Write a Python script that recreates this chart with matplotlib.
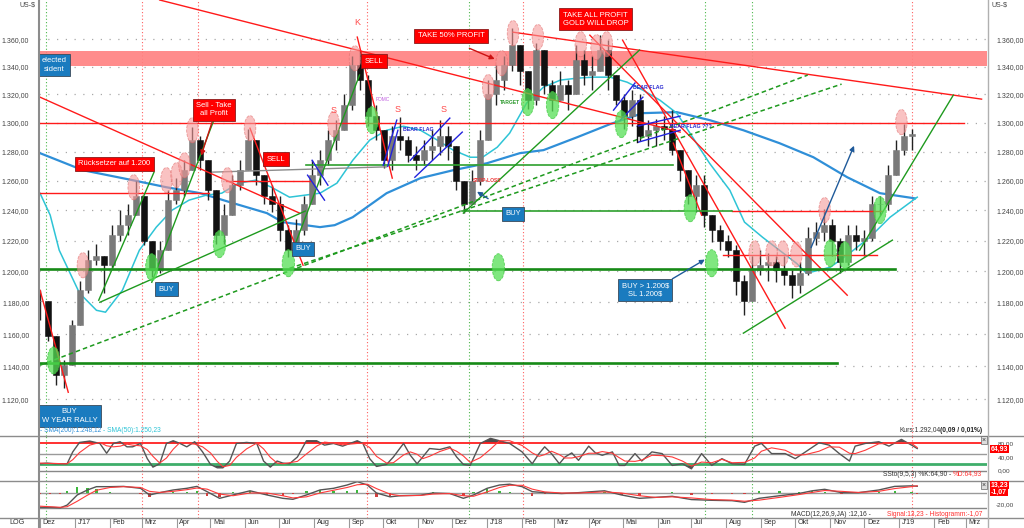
import numpy as np
import matplotlib
matplotlib.use("Agg")
import matplotlib.pyplot as plt
from matplotlib.path import Path
from matplotlib.transforms import Affine2D, ScaledTranslation
from matplotlib.lines import Line2D
from matplotlib.ticker import FuncFormatter, NullLocator

plt.rcParams['font.family'] = ['Liberation Sans', 'DejaVu Sans']

# x axis: days since 1 Dec 2016
month_days = [0, 31, 62, 90, 121, 151, 182, 212, 243, 274, 304, 335, 365, 396, 427, 455,
              486, 516, 547, 577, 608, 639, 669, 700, 730, 761, 792, 820]
month_labels = ['Dez', "J'17", 'Feb', 'Mrz', 'Apr', 'Mai', 'Jun', 'Jul', 'Aug', 'Sep', 'Okt',
                'Nov', 'Dez', "J'18", 'Feb', 'Mrz', 'Apr', 'Mai', 'Jun', 'Jul', 'Aug', 'Sep',
                'Okt', 'Nov', 'Dez', "J'19", 'Feb', 'Mrz']
price_ticks = [1.12, 1.14, 1.16, 1.18, 1.20, 1.22, 1.24, 1.26, 1.28, 1.30, 1.32, 1.34, 1.36]

# weekly gold price (thousand US-$ per ounce)
week_day = np.linspace(0, 772, 110)
close = [1.181, 1.159, 1.1345, 1.141, 1.166, 1.188, 1.207, 1.210, 1.204, 1.224,
         1.230, 1.237, 1.250, 1.220, 1.201, 1.214, 1.247, 1.254, 1.267, 1.288,
         1.274, 1.254, 1.224, 1.237, 1.257, 1.267, 1.288, 1.264, 1.250, 1.244,
         1.227, 1.214, 1.227, 1.244, 1.264, 1.274, 1.288, 1.295, 1.3125, 1.341,
         1.330, 1.305, 1.295, 1.274, 1.291, 1.288, 1.2775, 1.274, 1.281, 1.284,
         1.291, 1.284, 1.260, 1.244, 1.260, 1.288, 1.320, 1.330, 1.341, 1.356,
         1.337, 1.316, 1.352, 1.327, 1.316, 1.327, 1.320, 1.345, 1.334, 1.337,
         1.352, 1.334, 1.316, 1.305, 1.316, 1.291, 1.295, 1.298, 1.296, 1.281,
         1.267, 1.250, 1.257, 1.237, 1.227, 1.220, 1.214, 1.194, 1.181, 1.201,
         1.204, 1.206, 1.201, 1.1975, 1.191, 1.199, 1.222, 1.226, 1.230, 1.220,
         1.206, 1.224, 1.220, 1.222, 1.244, 1.244, 1.264, 1.281, 1.291, 1.292]
high = [1.188, 1.175, 1.150, 1.144, 1.169, 1.194, 1.214, 1.218, 1.210, 1.230,
        1.240, 1.244, 1.260, 1.250, 1.220, 1.220, 1.254, 1.262, 1.274, 1.297,
        1.291, 1.274, 1.254, 1.244, 1.264, 1.274, 1.296, 1.288, 1.264, 1.257,
        1.250, 1.230, 1.234, 1.250, 1.274, 1.281, 1.295, 1.302, 1.320, 1.348,
        1.352, 1.334, 1.3125, 1.295, 1.298, 1.304, 1.291, 1.284, 1.288, 1.295,
        1.302, 1.298, 1.284, 1.260, 1.267, 1.295, 1.330, 1.341, 1.348, 1.368,
        1.356, 1.337, 1.357, 1.345, 1.330, 1.337, 1.330, 1.356, 1.352, 1.348,
        1.363, 1.359, 1.334, 1.320, 1.323, 1.320, 1.302, 1.303, 1.305, 1.309,
        1.281, 1.267, 1.264, 1.264, 1.237, 1.230, 1.224, 1.217, 1.1975, 1.210,
        1.214, 1.212, 1.210, 1.210, 1.201, 1.206, 1.229, 1.232, 1.241, 1.234,
        1.222, 1.230, 1.230, 1.227, 1.250, 1.250, 1.271, 1.288, 1.299, 1.296]
low = [1.169, 1.156, 1.1285, 1.127, 1.141, 1.166, 1.186, 1.204, 1.186, 1.202,
       1.220, 1.224, 1.237, 1.217, 1.196, 1.199, 1.214, 1.244, 1.250, 1.267,
       1.267, 1.247, 1.218, 1.218, 1.237, 1.254, 1.267, 1.257, 1.244, 1.239,
       1.220, 1.209, 1.210, 1.224, 1.244, 1.257, 1.271, 1.281, 1.295, 1.309,
       1.323, 1.298, 1.288, 1.269, 1.267, 1.281, 1.273, 1.267, 1.271, 1.274,
       1.2775, 1.274, 1.254, 1.238, 1.244, 1.257, 1.288, 1.3125, 1.323, 1.337,
       1.327, 1.310, 1.3125, 1.320, 1.308, 1.316, 1.309, 1.320, 1.327, 1.323,
       1.337, 1.323, 1.3125, 1.296, 1.298, 1.287, 1.284, 1.284, 1.288, 1.2775,
       1.260, 1.244, 1.239, 1.229, 1.219, 1.214, 1.209, 1.185, 1.172, 1.181,
       1.1975, 1.194, 1.193, 1.191, 1.183, 1.186, 1.1975, 1.217, 1.220, 1.210,
       1.199, 1.204, 1.214, 1.210, 1.220, 1.237, 1.240, 1.264, 1.2775, 1.281]

# moving averages
sma200_days = [0, 38, 82, 112, 142, 171, 201, 215, 248, 261, 277, 307, 337, 366, 396, 425,
               446, 476, 505, 534, 564, 593, 623, 655, 685, 715, 744, 775]
sma200 = [1.2789, 1.2672, 1.2604, 1.2556, 1.2516, 1.2449, 1.2382, 1.2322, 1.2289, 1.2302,
          1.2355, 1.2516, 1.2618, 1.2672, 1.2720, 1.2789, 1.2810, 1.2900, 1.2991, 1.3068,
          1.3075, 1.3019, 1.2948, 1.2858, 1.2761, 1.2624, 1.2516, 1.2481]
sma50_days = [0, 9, 17, 35, 50, 58, 73, 88, 103, 117, 132, 147, 161, 176, 191, 205, 221,
              248, 263, 277, 292, 307, 322, 337, 352, 366, 381, 392, 405, 416, 431, 446,
              461, 476, 490, 505, 520, 534, 549, 564, 578, 593, 611, 624, 640, 670, 679,
              700, 717, 735, 753, 777]
sma50 = [1.2516, 1.2369, 1.2137, 1.1859, 1.1750, 1.1738, 1.1878, 1.2137, 1.2289, 1.2402,
         1.2469, 1.2502, 1.2516, 1.2584, 1.2604, 1.2556, 1.2489, 1.2516, 1.2584, 1.2740,
         1.2879, 1.2948, 1.2976, 1.2948, 1.2879, 1.2810, 1.2761, 1.2761, 1.2830, 1.2928,
         1.3139, 1.3253, 1.3303, 1.3317, 1.3324, 1.3324, 1.3288, 1.3231, 1.3160, 1.3068,
         1.2900, 1.2720, 1.2536, 1.2322, 1.2222, 1.2052, 1.1987, 1.2026, 1.2117, 1.2222,
         1.2355, 1.2489]

# slow stochastic (9,5,3)
stoch_days = [0, 6, 13, 20, 24, 29, 35, 44, 53, 59, 65, 71, 77, 82, 89, 95, 100, 106, 112, 118,
              124, 130, 137, 144, 151, 157, 162, 168, 174, 183, 192, 198, 204, 210, 215, 221,
              228, 236, 245, 252, 260, 268, 281, 286, 292, 298, 307, 313, 322, 328, 334, 339,
              345, 354, 363, 369, 375, 381, 390, 399, 407, 416, 427, 436, 442, 447, 453, 460,
              465, 471, 477, 486, 492, 498, 507, 513, 518, 527, 533, 542, 551, 560, 569, 577,
              586, 595, 604, 613, 624, 633, 639, 648, 660, 669, 678, 690, 699, 708, 717, 722,
              731, 743, 752, 763, 772, 777]
stoch_k = [20, 22, 20, 20, 20, 55, 83, 87, 80, 51, 80, 85, 70, 70, 80, 35, 10, 20, 80, 88,
           80, 70, 85, 55, 18, 8, 8, 28, 80, 83, 80, 28, 10, 28, 22, 20, 40, 88, 88, 75,
           80, 72, 88, 80, 35, 12, 18, 40, 80, 45, 20, 40, 65, 62, 70, 40, 18, 15, 80, 95,
           88, 80, 55, 20, 50, 70, 50, 20, 40, 52, 30, 72, 52, 45, 55, 15, 15, 50, 28, 55,
           50, 15, 20, 5, 50, 15, 35, 20, 18, 72, 80, 50, 50, 35, 55, 82, 75, 50, 28, 72,
           80, 85, 72, 92, 75, 65]
stoch_d = [22, 21, 21, 20, 20, 32, 53, 75, 83, 73, 70, 72, 78, 75, 73, 62, 42, 22, 37, 63,
           83, 80, 78, 70, 52, 27, 11, 15, 39, 64, 81, 64, 39, 22, 20, 23, 27, 49, 72, 84,
           81, 76, 80, 80, 68, 42, 22, 23, 46, 55, 48, 35, 42, 56, 66, 57, 43, 24, 38, 63,
           88, 88, 74, 52, 42, 47, 57, 47, 37, 37, 41, 51, 51, 56, 51, 38, 28, 27, 31, 45,
           44, 40, 28, 13, 25, 23, 33, 23, 24, 37, 57, 67, 60, 45, 47, 57, 70, 69, 51, 50,
           60, 79, 80, 83, 80, 68]

# MACD (12,26,9)
macd_days = [0, 9, 18, 24, 33, 42, 50, 62, 74, 89, 97, 106, 118, 130, 139, 148, 159, 171, 186,
             201, 215, 224, 236, 248, 260, 272, 281, 290, 298, 310, 319, 337, 348, 363, 375,
             384, 396, 407, 416, 427, 436, 447, 462, 477, 500, 515, 531, 545, 560, 577, 595,
             613, 624, 637, 655, 672, 684, 695, 710, 725, 743, 757, 772, 777]
macd = [-26, -26, -27, -22, -3.6, 5.5, 11.5, 11.5, 12, 8.5, -3.6, 0.6, 5.5, 8.5, 12, 2.4,
        -9.7, -3.6, 4, -3.6, -9.7, -11.5, -3.6, 5.5, 8.5, 14.5, 20.6, 14.5, 0, -7, -5, -4,
        0, -1, -9.7, -3.6, 8.5, 14.5, 16, 11.5, 2.4, 0.6, -1, 0.6, 4, -3.6, -9.7, -8, -6,
        -12, -13.3, -14, -17, -9.7, -5, -1, 4, 6.7, 0.6, 0.6, 5.5, 12, 13, 12.2]
signal = [-24, -25, -26, -25, -15, -4, 5, 10, 11.5, 10, 3, 1, 3, 6, 9, 7, -2, -5, 0, 0,
          -5, -9, -7, 0, 5, 10, 15, 16, 8, -2, -5, -4.5, -2, -1, -5, -6, 2, 10, 14, 14,
          7, 2, 0, 0, 2, 0, -5, -8, -7, -9, -12, -13, -15, -13, -8, -3, 1, 4.5, 3, 1,
          3, 8, 11.5, 13.2]

# drawn analysis: (day0, price0, day1, price1)
red_lines = [(106, 1.389, 567, 1.2935), (419, 1.3651, 834, 1.3167), (0, 1.3181, 230, 1.2382),
             (281, 1.3615, 312, 1.2618), (186, 1.2962, 233, 1.2039), (0, 1.1878, 25, 1.1242),
             (487, 1.3629, 715, 1.1846), (516, 1.3593, 660, 1.1637), (561, 1.2858, 586, 1.2369)]
red_levels = [(1.300, 0, 818), (1.252, 0, 150), (1.260, 165, 239), (1.2396, 613, 746),
              (1.2104, 605, 741)]
green_levels_main = [(1.2013, 0, 757), (1.1419, 0, 706)]
green_levels_thin = [(1.2706, 236, 561), (1.2396, 374, 613)]
gray_lines = [(153, 1.2659, 307, 1.2695)]
green_lines = [(224, 1.2137, 283, 1.3339), (52, 1.1814, 101, 1.2659), (99, 1.1929, 154, 1.3019),
               (53, 1.1801, 235, 1.2396), (375, 1.2382, 531, 1.3520), (623, 1.1606, 755, 1.2203),
               (726, 1.2137, 809, 1.3196)]
green_dashed = [(0, 1.1407, 680, 1.3339), (221, 1.2019, 710, 1.3274)]
blue_flags = [(241, 1.2740, 255, 1.2570), (237, 1.2638, 252, 1.2469), (304, 1.2706, 316, 1.3019),
              (308, 1.2699, 317, 1.2948), (328, 1.2740, 363, 1.3033), (332, 1.2624, 374, 1.2935),
              (508, 1.3089, 527, 1.3282), (514, 1.3019, 534, 1.3181), (529, 1.2976, 567, 1.3047),
              (530, 1.2865, 567, 1.2948)]
black_lines = [(529, 1.2865, 529, 1.2976)]
red_arrows = [(153, 1.302, 142, 1.2754), (378, 1.3541, 405, 1.3447)]
navy_arrows = [(682, 1.2137, 722, 1.2858), (558, 1.1942, 591, 1.2085), (399, 1.2469, 385, 1.2536)]
resistance_band = (1.3404, 1.3513)

pink_days = [38, 83, 112, 121, 128, 135, 166, 186, 260, 279, 397, 409, 419, 441, 479, 493, 502,
             633, 648, 658, 670, 695, 763]
pink_prices = [1.2039, 1.2556, 1.2604, 1.2638, 1.2706, 1.2948, 1.2604, 1.2962, 1.2991, 1.346,
               1.3253, 1.3425, 1.3644, 1.3615, 1.3563, 1.3541, 1.3563, 1.2117, 1.2117, 1.2117,
               1.211, 1.2402, 1.3005]
green_days = [12, 99, 159, 220, 294, 406, 432, 454, 515, 576, 595, 700, 713, 744]
green_prices = [1.1437, 1.2026, 1.2177, 1.2052, 1.3019, 1.2026, 1.3146, 1.3125, 1.2991, 1.2415,
                1.2052, 1.2117, 1.2104, 1.2402]

red_vlines = [90, 140, 290, 428, 772]
green_vlines = [5, 380, 589, 631]

red_boxes = [('Rücksetzer auf 1.200', 66, 1.2716), ('Sell - Take\nall Profit', 154, 1.3093),
             ('SELL', 209, 1.2747), ('SELL', 296, 1.3440), ('TAKE 50% PROFIT', 364, 1.3626),
             ('TAKE ALL PROFIT\nGOLD WILL DROP', 492, 1.3748)]
blue_boxes = [('BUY', 112, 1.1884), ('BUY', 233, 1.2147), ('BUY', 419, 1.2378),
              ('BUY > 1.200$\nSL 1.200$', 536, 1.1878)]
edge_boxes = [('elected\nsident', 1.5, 1.3411), ('BUY\nW YEAR RALLY', 1.5, 1.110)]
red_letters = [('K', 281, 1.3725), ('S', 260, 1.3089), ('S', 317, 1.3096), ('S', 357, 1.3096)]
blue_notes = [('BEAR FLAG', 321.5, 1.2955), ('BEAR FLAG', 525, 1.3253), ('BEAR FLAG ???', 558, 1.2976)]


def de_fmt(v, pos=None):
    s = f"{v:,.2f}"
    return s.replace(',', 'X').replace('.', ',').replace('X', '.')


def price_fmt(v, pos=None):
    return de_fmt(v * 1000)


def fy(y):
    return 1 - y / 528


RED = '#ff1a1a'
GREEN = '#1e9a1e'
BLUE_BOX = '#1a7bbf'
SMA200_C = '#2f8fd8'
SMA50_C = '#2ec4d6'

fig = plt.figure(figsize=(10.24, 5.28), dpi=100)
ax = fig.add_axes([39 / 1024, 92 / 528, 948 / 1024, 436 / 528])
ax_s = fig.add_axes([39 / 1024, 47 / 528, 948 / 1024, 45 / 528])
ax_m = fig.add_axes([39 / 1024, 10 / 528, 948 / 1024, 37 / 528])

for a in (ax, ax_s, ax_m):
    a.set_xlim(-0.9, 838.8)
    for sp in a.spines.values():
        sp.set_visible(False)
    a.set_facecolor('white')
    for d in red_vlines:
        a.axvline(d, color='#ff6060', lw=0.8, ls=(0, (1, 2)), zorder=1)
    for d in green_vlines:
        a.axvline(d, color='#4cb84c', lw=0.8, ls=(0, (1, 2)), zorder=1)

# ---- main price panel
ax.set_yscale('log')
ax.set_ylim(1.098, 1.389)
ax.set_yticks(price_ticks)
ax.yaxis.set_minor_locator(NullLocator())
ax.yaxis.set_major_formatter(FuncFormatter(price_fmt))
ax.tick_params(axis='y', which='both', left=False, right=False, labelleft=True,
               labelright=True, labelsize=5, labelcolor='#444', pad=3.5)
ax.tick_params(axis='x', bottom=False, labelbottom=False)
for p in price_ticks:
    ax.axhline(p, color='#a8a8a8', lw=0.9, ls=(0, (1, 6)), zorder=0)

ax.axhspan(*resistance_band, color='#ff8080', alpha=0.9, lw=0, zorder=1)

ax.plot(sma200_days, sma200, color=SMA200_C, lw=1.6, zorder=3)
ax.plot(sma50_days, sma50, color=SMA50_C, lw=1.1, zorder=3)

opens = np.array([close[0]] + close[:-1])
cl = np.array(close)
top = np.maximum(np.array(high), np.maximum(opens, cl))
bot = np.minimum(np.array(low), np.minimum(opens, cl))
cols = np.where(cl >= opens, '#7a7a7a', '#111111')
ax.vlines(week_day, bot, top, color='#222222', lw=1.0, zorder=4)
ax.bar(week_day, cl - opens, bottom=opens, width=5.2, color=cols, edgecolor=cols, lw=0.4, zorder=4)

for d0, p0, d1, p1 in red_lines:
    ax.plot([d0, d1], [p0, p1], color=RED, lw=1.0, zorder=5)
for p, d0, d1 in red_levels:
    ax.plot([d0, d1], [p, p], color=RED, lw=1.0, zorder=5)
for p, d0, d1 in green_levels_main:
    ax.plot([d0, d1], [p, p], color='#168a16', lw=1.9, zorder=5)
for p, d0, d1 in green_levels_thin:
    ax.plot([d0, d1], [p, p], color='#2ea02e', lw=1.2, zorder=5)
for d0, p0, d1, p1 in gray_lines:
    ax.plot([d0, d1], [p0, p1], color='#8c8c8c', lw=1.0, zorder=5)
for d0, p0, d1, p1 in green_lines:
    ax.plot([d0, d1], [p0, p1], color=GREEN, lw=1.0, zorder=5)
for d0, p0, d1, p1 in green_dashed:
    ax.plot([d0, d1], [p0, p1], color=GREEN, lw=1.1, ls=(0, (3, 2)), zorder=5)
for d0, p0, d1, p1 in blue_flags:
    ax.plot([d0, d1], [p0, p1], color='#2222dd', lw=1.0, zorder=5)
for d0, p0, d1, p1 in black_lines:
    ax.plot([d0, d1], [p0, p1], color='#111111', lw=1.0, zorder=5)
for d0, p0, d1, p1 in red_arrows:
    ax.annotate('', xy=(d1, p1), xytext=(d0, p0),
                arrowprops=dict(arrowstyle='-|>', color='#cc1111', lw=1.0, mutation_scale=7), zorder=7)
for d0, p0, d1, p1 in navy_arrows:
    ax.annotate('', xy=(d1, p1), xytext=(d0, p0),
                arrowprops=dict(arrowstyle='-|>', color='#1f5a9a', lw=1.0, mutation_scale=7), zorder=7)

ell = Path.unit_circle().transformed(Affine2D().scale(0.46, 1.0))
ax.scatter(pink_days, pink_prices, marker=ell, s=330, facecolor='#f59a9a', edgecolor='#e06a6a',
           linewidths=0.6, linestyles='--', alpha=0.6, zorder=6)
ax.scatter(green_days, green_prices, marker=ell, s=380, facecolor='#55e055', edgecolor='#3cc83c',
           linewidths=0.6, linestyles='--', alpha=0.75, zorder=6)

for txt, d, p in red_boxes:
    ax.text(d, p, txt, color='white', fontsize=5.5, ha='center', va='center', zorder=10,
            multialignment='center',
            bbox=dict(boxstyle='square,pad=0.45', fc='#ff0000', ec='#8b1a1a', lw=0.6))
for txt, d, p in blue_boxes:
    ax.text(d, p, txt, color='white', fontsize=5.5, ha='center', va='center', zorder=10,
            multialignment='center',
            bbox=dict(boxstyle='square,pad=0.45', fc=BLUE_BOX, ec='#3a4a5a', lw=0.6))
for txt, d, p in edge_boxes:
    ax.text(d, p, txt, color='white', fontsize=5.5, ha='left', va='center', zorder=10,
            multialignment='center', linespacing=1.3,
            bbox=dict(boxstyle='square,pad=0.45', fc=BLUE_BOX, ec='#3a4a5a', lw=0.6))
for txt, d, p in red_letters:
    ax.text(d, p, txt, color='#ff4a4a', fontsize=6.5, ha='center', va='center', zorder=10)
for txt, d, p in blue_notes:
    ax.text(d, p, txt, color='#2626d0', fontsize=3.8, ha='left', va='center', zorder=10,
            weight='bold')
ax.text(304, 1.3167, 'FOMC', color='#c060e0', fontsize=3.5, ha='center', va='center', zorder=10)
ax.text(407, 1.3146, 'TARGET', color='#2e9a2e', fontsize=3.6, ha='left', va='center',
        zorder=10, weight='bold')
ax.text(383.5, 1.2604, 'STOP-LOSS', color='#ee3333', fontsize=3.6, ha='left', va='center',
        zorder=10, weight='bold')

# ---- stochastic panel
ax_s.set_ylim(-31, 102)
k = np.array(stoch_k, dtype=float)
ax_s.fill_between(stoch_days, k, 80, where=k > 80, interpolate=True, color='#4d4d4d', lw=0)
ax_s.fill_between(stoch_days, k, 20, where=k < 20, interpolate=True, color='#4d4d4d', lw=0)
ax_s.axhline(80, color='#ff2020', lw=1.3, zorder=2)
ax_s.axhline(50, color='#9a9a9a', lw=1.0, zorder=2)
ax_s.axhline(20, color='#3fae6a', lw=2.0, zorder=2)
ax_s.axhline(0, color='#888888', lw=1.0, zorder=2)
ax_s.plot(stoch_days, stoch_k, color='#555555', lw=1.0, zorder=3)
ax_s.plot(stoch_days, stoch_d, color='#ff3a3a', lw=0.8, zorder=3)
ax_s.set_yticks([0, 40, 80])
ax_s.yaxis.set_major_formatter(FuncFormatter(de_fmt))
ax_s.tick_params(axis='y', left=False, right=False, labelleft=False, labelright=True,
                 labelsize=4.6, labelcolor='#444', pad=4)
ax_s.tick_params(axis='x', bottom=False, labelbottom=False)

# ---- MACD panel
ax_m.set_ylim(-45.5, 21.8)
hist = np.array(macd) - np.array(signal)
ax_m.bar(macd_days, hist, width=2.0, color=np.where(hist >= 0, '#3db83d', '#d04040'), zorder=2)
ax_m.axhline(0, color='#9a9a9a', lw=1.0, zorder=1)
ax_m.axhline(-28, color='#888888', lw=1.0, zorder=1)
ax_m.plot(macd_days, macd, color='#555555', lw=1.0, zorder=3)
ax_m.plot(macd_days, signal, color='#ff3a3a', lw=0.8, zorder=3)
ax_m.set_yticks([-20])
ax_m.yaxis.set_major_formatter(FuncFormatter(de_fmt))
ax_m.tick_params(axis='y', left=False, right=False, labelleft=False, labelright=True,
                 labelsize=4.6, labelcolor='#444', pad=3)
ax_m.set_xticks(month_days)
ax_m.set_xticklabels(month_labels)
ax_m.tick_params(axis='x', length=7, color='#999999', labelsize=5.2, labelcolor='#333', pad=-6)
for lbl in ax_m.get_xticklabels():
    lbl.set_ha('left')
    lbl.set_transform(lbl.get_transform() + ScaledTranslation(2 / 72, 0, fig.dpi_scale_trans))

# ---- frame lines and texts outside the plot
for y in (436, 481, 518):
    fig.add_artist(Line2D([0, 1], [fy(y), fy(y)], transform=fig.transFigure,
                          color='#8c8c8c', lw=1.0))
fig.add_artist(Line2D([39 / 1024] * 2, [0, 1], transform=fig.transFigure, color='#8c8c8c', lw=1.5))
fig.add_artist(Line2D([988 / 1024] * 2, [0, 1], transform=fig.transFigure, color='#b0b0b0', lw=1.0))

fig.text(27 / 1024, fy(5), 'US-$', fontsize=5, ha='center', va='center', color='#444')
fig.text(992 / 1024, fy(5), 'US-$', fontsize=5, ha='left', va='center', color='#444')
fig.text(17 / 1024, fy(523), 'LOG', fontsize=5.2, ha='center', va='center', color='#333')
fig.text(40 / 1024, fy(431), '- SMA(200):1.248,12', fontsize=4.8, color=SMA200_C, va='center')
fig.text(103 / 1024, fy(431), '- SMA(50):1.250,23', fontsize=4.8, color=SMA50_C, va='center')
fig.text(941 / 1024, fy(430), 'Kurs:1.292,04', fontsize=4.8, color='#333', ha='right', va='center')
fig.text(982 / 1024, fy(430), '(0,09 / 0,01%)', fontsize=4.8, color='#222', ha='right',
         va='center', weight='bold')
fig.text(953 / 1024, fy(474), 'SSto(9,5,3) %K:64,90 - ', fontsize=4.8, color='#333', ha='right', va='center')
fig.text(982 / 1024, fy(474), '%D:64,93', fontsize=4.8, color='#ff3030', ha='right', va='center')
fig.text(873 / 1024, fy(514), 'MACD(12,26,9,JA) :12,16 - ', fontsize=4.8, color='#333', ha='right', va='center')
fig.text(982 / 1024, fy(514), 'Signal:13,23 - Histogramm:-1,07', fontsize=4.8, color='#ff3030',
         ha='right', va='center')
for txt, y in (('64,93', 449), ('13,23', 485), ('-1,07', 492)):
    fig.text(991 / 1024, fy(y), txt, fontsize=5.0, color='white', ha='left', va='center',
             weight='bold', bbox=dict(boxstyle='square,pad=0.12', fc='#ff0000', ec='none'))
for y in (440, 485):
    fig.text(984 / 1024, fy(y), '×', fontsize=5, color='#333', ha='center', va='center',
             bbox=dict(boxstyle='square,pad=0.1', fc='#dddddd', ec='#666666', lw=0.5))

fig.savefig('out.png', dpi=100)
